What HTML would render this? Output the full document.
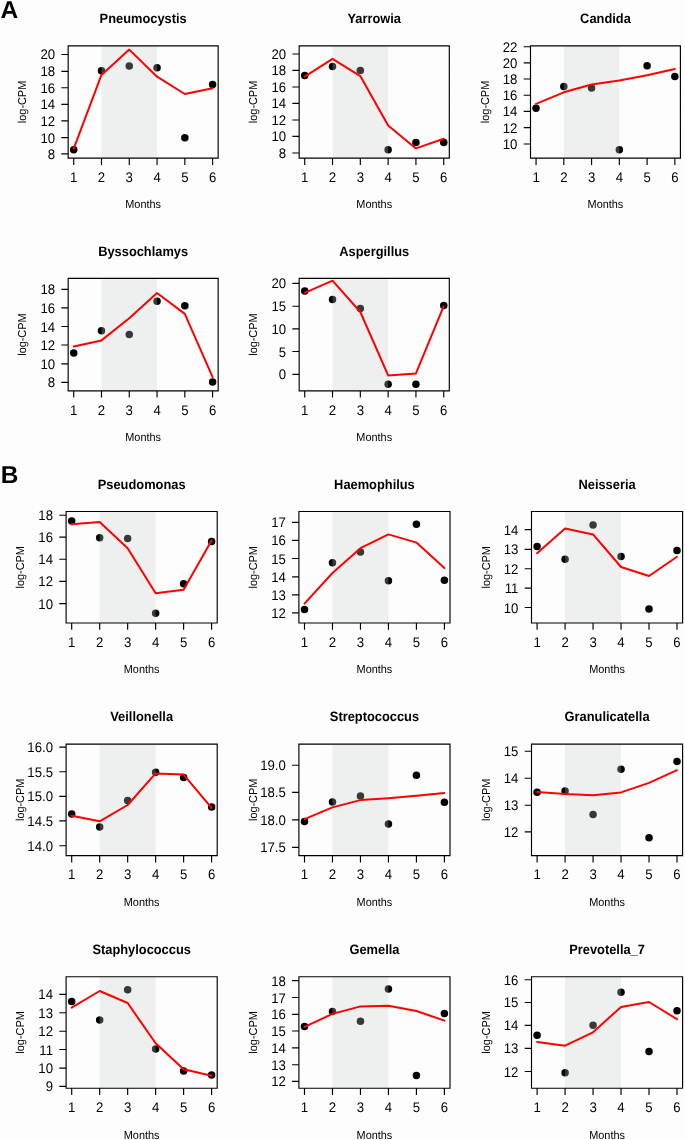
<!DOCTYPE html>
<html><head><meta charset="utf-8"><style>
html,body{margin:0;padding:0;background:#fdfdfd;}
svg{display:block;will-change:transform;}
text{font-family:"Liberation Sans",sans-serif;fill:#000;text-rendering:geometricPrecision;}
.t{font-weight:bold;font-size:12.85px;text-anchor:middle;}
.k{font-size:13.2px;text-anchor:middle;}
.r{text-anchor:end;}
.l{font-size:10.9px;text-anchor:middle;}
.L{font-weight:bold;font-size:24.5px;}
</style></head><body>
<svg width="685" height="1140" viewBox="0 0 685 1140">
<rect width="685" height="1140" fill="#fdfdfd"/>
<text x="0.6" y="18.2" class="L">A</text>
<text x="0.7" y="483.1" class="L">B</text>
<g fill="#000"><circle cx="73.72" cy="149.8" r="3.75"/><circle cx="101.49" cy="70.8" r="3.75"/><circle cx="129.27" cy="66" r="3.75"/><circle cx="157.05" cy="67.7" r="3.75"/><circle cx="184.83" cy="137.8" r="3.75"/><circle cx="212.6" cy="84.6" r="3.75"/></g>
<rect x="101.49" y="45.8" width="55.56" height="112.35" fill="rgba(202,206,206,0.277)"/>
<polyline fill="none" stroke="#f00" stroke-width="2" stroke-linejoin="round" stroke-linecap="round" points="73.72,148.6 101.49,74.9 129.27,49.6 157.05,76.7 184.83,94 212.6,88.2"/>
<path d="M68.16 45.8H218.16V158.15H68.16ZM73.72 158.15v6.8M101.49 158.15v6.8M129.27 158.15v6.8M157.05 158.15v6.8M184.83 158.15v6.8M212.6 158.15v6.8M68.16 54.45h-6.8M68.16 71.3h-6.8M68.16 87.7h-6.8M68.16 104.3h-6.8M68.16 120.9h-6.8M68.16 137.6h-6.8M68.16 153.9h-6.8" fill="none" stroke="#000" stroke-width="1.15"/>
<text class="t" transform="translate(143.16 23.1) scale(1 1.06)">Pneumocystis</text>
<text class="k" transform="translate(73.72 181.95) scale(1 1.06)">1</text>
<text class="k" transform="translate(101.49 181.95) scale(1 1.06)">2</text>
<text class="k" transform="translate(129.27 181.95) scale(1 1.06)">3</text>
<text class="k" transform="translate(157.05 181.95) scale(1 1.06)">4</text>
<text class="k" transform="translate(184.83 181.95) scale(1 1.06)">5</text>
<text class="k" transform="translate(212.6 181.95) scale(1 1.06)">6</text>
<text class="k r" transform="translate(55.06 59.49) scale(1 1.06)">20</text>
<text class="k r" transform="translate(55.06 76.34) scale(1 1.06)">18</text>
<text class="k r" transform="translate(55.06 92.74) scale(1 1.06)">16</text>
<text class="k r" transform="translate(55.06 109.34) scale(1 1.06)">14</text>
<text class="k r" transform="translate(55.06 125.94) scale(1 1.06)">12</text>
<text class="k r" transform="translate(55.06 142.64) scale(1 1.06)">10</text>
<text class="k r" transform="translate(55.06 158.94) scale(1 1.06)">8</text>
<text class="l" transform="translate(143.16 208.45) scale(1 1.06)">Months</text>
<text class="l" transform="translate(26.36 101.97) rotate(-90) scale(1 1.06)">log-CPM</text>
<g fill="#000"><circle cx="304.72" cy="75.4" r="3.75"/><circle cx="332.52" cy="66.5" r="3.75"/><circle cx="360.33" cy="70.4" r="3.75"/><circle cx="388.13" cy="149.8" r="3.75"/><circle cx="415.94" cy="142.4" r="3.75"/><circle cx="443.74" cy="142.6" r="3.75"/></g>
<rect x="332.52" y="45.8" width="55.61" height="112.35" fill="rgba(202,206,206,0.277)"/>
<polyline fill="none" stroke="#f00" stroke-width="2" stroke-linejoin="round" stroke-linecap="round" points="304.72,76.6 332.52,58.8 360.33,76.1 388.13,125.5 415.94,148.4 443.74,138.8"/>
<path d="M299.16 45.8H449.3V158.15H299.16ZM304.72 158.15v6.8M332.52 158.15v6.8M360.33 158.15v6.8M388.13 158.15v6.8M415.94 158.15v6.8M443.74 158.15v6.8M299.16 54h-6.8M299.16 70.4h-6.8M299.16 87h-6.8M299.16 103.4h-6.8M299.16 120h-6.8M299.16 136.4h-6.8M299.16 153h-6.8" fill="none" stroke="#000" stroke-width="1.15"/>
<text class="t" transform="translate(374.23 23.1) scale(1 1.06)">Yarrowia</text>
<text class="k" transform="translate(304.72 181.95) scale(1 1.06)">1</text>
<text class="k" transform="translate(332.52 181.95) scale(1 1.06)">2</text>
<text class="k" transform="translate(360.33 181.95) scale(1 1.06)">3</text>
<text class="k" transform="translate(388.13 181.95) scale(1 1.06)">4</text>
<text class="k" transform="translate(415.94 181.95) scale(1 1.06)">5</text>
<text class="k" transform="translate(443.74 181.95) scale(1 1.06)">6</text>
<text class="k r" transform="translate(286.06 59.04) scale(1 1.06)">20</text>
<text class="k r" transform="translate(286.06 75.44) scale(1 1.06)">18</text>
<text class="k r" transform="translate(286.06 92.04) scale(1 1.06)">16</text>
<text class="k r" transform="translate(286.06 108.44) scale(1 1.06)">14</text>
<text class="k r" transform="translate(286.06 125.04) scale(1 1.06)">12</text>
<text class="k r" transform="translate(286.06 141.44) scale(1 1.06)">10</text>
<text class="k r" transform="translate(286.06 158.04) scale(1 1.06)">8</text>
<text class="l" transform="translate(374.23 208.45) scale(1 1.06)">Months</text>
<text class="l" transform="translate(257.36 101.97) rotate(-90) scale(1 1.06)">log-CPM</text>
<g fill="#000"><circle cx="536.05" cy="108.3" r="3.75"/><circle cx="563.81" cy="86.4" r="3.75"/><circle cx="591.57" cy="88.1" r="3.75"/><circle cx="619.33" cy="149.7" r="3.75"/><circle cx="647.09" cy="65.7" r="3.75"/><circle cx="674.85" cy="76.6" r="3.75"/></g>
<rect x="563.81" y="45.8" width="55.52" height="112.35" fill="rgba(202,206,206,0.277)"/>
<polyline fill="none" stroke="#f00" stroke-width="2" stroke-linejoin="round" stroke-linecap="round" points="536.05,103.8 563.81,92.3 591.57,84.5 619.33,80.5 647.09,75.2 674.85,69"/>
<path d="M530.5 45.8H680.4V158.15H530.5ZM536.05 158.15v6.8M563.81 158.15v6.8M591.57 158.15v6.8M619.33 158.15v6.8M647.09 158.15v6.8M674.85 158.15v6.8M530.5 46.7h-6.8M530.5 62.8h-6.8M530.5 79h-6.8M530.5 95.2h-6.8M530.5 111.4h-6.8M530.5 127.6h-6.8M530.5 144h-6.8" fill="none" stroke="#000" stroke-width="1.15"/>
<text class="t" transform="translate(605.45 23.1) scale(1 1.06)">Candida</text>
<text class="k" transform="translate(536.05 181.95) scale(1 1.06)">1</text>
<text class="k" transform="translate(563.81 181.95) scale(1 1.06)">2</text>
<text class="k" transform="translate(591.57 181.95) scale(1 1.06)">3</text>
<text class="k" transform="translate(619.33 181.95) scale(1 1.06)">4</text>
<text class="k" transform="translate(647.09 181.95) scale(1 1.06)">5</text>
<text class="k" transform="translate(674.85 181.95) scale(1 1.06)">6</text>
<text class="k r" transform="translate(517.4 51.74) scale(1 1.06)">22</text>
<text class="k r" transform="translate(517.4 67.84) scale(1 1.06)">20</text>
<text class="k r" transform="translate(517.4 84.04) scale(1 1.06)">18</text>
<text class="k r" transform="translate(517.4 100.24) scale(1 1.06)">16</text>
<text class="k r" transform="translate(517.4 116.44) scale(1 1.06)">14</text>
<text class="k r" transform="translate(517.4 132.64) scale(1 1.06)">12</text>
<text class="k r" transform="translate(517.4 149.04) scale(1 1.06)">10</text>
<text class="l" transform="translate(605.45 208.45) scale(1 1.06)">Months</text>
<text class="l" transform="translate(488.7 101.97) rotate(-90) scale(1 1.06)">log-CPM</text>
<g fill="#000"><circle cx="73.72" cy="353" r="3.75"/><circle cx="101.49" cy="330.8" r="3.75"/><circle cx="129.27" cy="334.4" r="3.75"/><circle cx="157.05" cy="301.2" r="3.75"/><circle cx="184.83" cy="305.8" r="3.75"/><circle cx="212.6" cy="381.9" r="3.75"/></g>
<rect x="101.49" y="278.4" width="55.56" height="112.4" fill="rgba(202,206,206,0.277)"/>
<polyline fill="none" stroke="#f00" stroke-width="2" stroke-linejoin="round" stroke-linecap="round" points="73.72,346.5 101.49,340.4 129.27,318.3 157.05,293 184.83,313.9 212.6,377.1"/>
<path d="M68.16 278.4H218.16V390.8H68.16ZM73.72 390.8v6.8M101.49 390.8v6.8M129.27 390.8v6.8M157.05 390.8v6.8M184.83 390.8v6.8M212.6 390.8v6.8M68.16 289.4h-6.8M68.16 307.9h-6.8M68.16 326.5h-6.8M68.16 345h-6.8M68.16 363.8h-6.8M68.16 382.4h-6.8" fill="none" stroke="#000" stroke-width="1.15"/>
<text class="t" transform="translate(143.16 255.7) scale(1 1.06)">Byssochlamys</text>
<text class="k" transform="translate(73.72 414.6) scale(1 1.06)">1</text>
<text class="k" transform="translate(101.49 414.6) scale(1 1.06)">2</text>
<text class="k" transform="translate(129.27 414.6) scale(1 1.06)">3</text>
<text class="k" transform="translate(157.05 414.6) scale(1 1.06)">4</text>
<text class="k" transform="translate(184.83 414.6) scale(1 1.06)">5</text>
<text class="k" transform="translate(212.6 414.6) scale(1 1.06)">6</text>
<text class="k r" transform="translate(55.06 294.44) scale(1 1.06)">18</text>
<text class="k r" transform="translate(55.06 312.94) scale(1 1.06)">16</text>
<text class="k r" transform="translate(55.06 331.54) scale(1 1.06)">14</text>
<text class="k r" transform="translate(55.06 350.04) scale(1 1.06)">12</text>
<text class="k r" transform="translate(55.06 368.84) scale(1 1.06)">10</text>
<text class="k r" transform="translate(55.06 387.44) scale(1 1.06)">8</text>
<text class="l" transform="translate(143.16 441.1) scale(1 1.06)">Months</text>
<text class="l" transform="translate(26.36 334.6) rotate(-90) scale(1 1.06)">log-CPM</text>
<g fill="#000"><circle cx="304.72" cy="291.1" r="3.75"/><circle cx="332.52" cy="299.5" r="3.75"/><circle cx="360.33" cy="308.6" r="3.75"/><circle cx="388.13" cy="384.3" r="3.75"/><circle cx="415.94" cy="384.3" r="3.75"/><circle cx="443.74" cy="305.5" r="3.75"/></g>
<rect x="332.52" y="278.4" width="55.61" height="112.4" fill="rgba(202,206,206,0.277)"/>
<polyline fill="none" stroke="#f00" stroke-width="2" stroke-linejoin="round" stroke-linecap="round" points="304.72,292.8 332.52,280.7 360.33,312 388.13,375.4 415.94,373.4 443.74,306.2"/>
<path d="M299.16 278.4H449.3V390.8H299.16ZM304.72 390.8v6.8M332.52 390.8v6.8M360.33 390.8v6.8M388.13 390.8v6.8M415.94 390.8v6.8M443.74 390.8v6.8M299.16 283.4h-6.8M299.16 306.2h-6.8M299.16 328.9h-6.8M299.16 351.5h-6.8M299.16 374.4h-6.8" fill="none" stroke="#000" stroke-width="1.15"/>
<text class="t" transform="translate(374.23 255.7) scale(1 1.06)">Aspergillus</text>
<text class="k" transform="translate(304.72 414.6) scale(1 1.06)">1</text>
<text class="k" transform="translate(332.52 414.6) scale(1 1.06)">2</text>
<text class="k" transform="translate(360.33 414.6) scale(1 1.06)">3</text>
<text class="k" transform="translate(388.13 414.6) scale(1 1.06)">4</text>
<text class="k" transform="translate(415.94 414.6) scale(1 1.06)">5</text>
<text class="k" transform="translate(443.74 414.6) scale(1 1.06)">6</text>
<text class="k r" transform="translate(286.06 288.44) scale(1 1.06)">20</text>
<text class="k r" transform="translate(286.06 311.24) scale(1 1.06)">15</text>
<text class="k r" transform="translate(286.06 333.94) scale(1 1.06)">10</text>
<text class="k r" transform="translate(286.06 356.54) scale(1 1.06)">5</text>
<text class="k r" transform="translate(286.06 379.44) scale(1 1.06)">0</text>
<text class="l" transform="translate(374.23 441.1) scale(1 1.06)">Months</text>
<text class="l" transform="translate(257.36 334.6) rotate(-90) scale(1 1.06)">log-CPM</text>
<g fill="#000"><circle cx="71.7" cy="520.9" r="3.75"/><circle cx="99.68" cy="537.8" r="3.75"/><circle cx="127.66" cy="538.5" r="3.75"/><circle cx="155.64" cy="613.2" r="3.75"/><circle cx="183.62" cy="583.8" r="3.75"/><circle cx="211.6" cy="541.6" r="3.75"/></g>
<rect x="99.68" y="511.5" width="55.96" height="111.5" fill="rgba(202,206,206,0.277)"/>
<polyline fill="none" stroke="#f00" stroke-width="2" stroke-linejoin="round" stroke-linecap="round" points="71.7,524.3 99.68,522 127.66,548.2 155.64,593.2 183.62,589.8 211.6,540.4"/>
<path d="M66.1 511.5H217.2V623H66.1ZM71.7 623v6.8M99.68 623v6.8M127.66 623v6.8M155.64 623v6.8M183.62 623v6.8M211.6 623v6.8M66.1 515.2h-6.8M66.1 537.1h-6.8M66.1 559.2h-6.8M66.1 581.4h-6.8M66.1 603.6h-6.8" fill="none" stroke="#000" stroke-width="1.15"/>
<text class="t" transform="translate(141.65 488.8) scale(1 1.06)">Pseudomonas</text>
<text class="k" transform="translate(71.7 646.8) scale(1 1.06)">1</text>
<text class="k" transform="translate(99.68 646.8) scale(1 1.06)">2</text>
<text class="k" transform="translate(127.66 646.8) scale(1 1.06)">3</text>
<text class="k" transform="translate(155.64 646.8) scale(1 1.06)">4</text>
<text class="k" transform="translate(183.62 646.8) scale(1 1.06)">5</text>
<text class="k" transform="translate(211.6 646.8) scale(1 1.06)">6</text>
<text class="k r" transform="translate(53 520.24) scale(1 1.06)">18</text>
<text class="k r" transform="translate(53 542.14) scale(1 1.06)">16</text>
<text class="k r" transform="translate(53 564.24) scale(1 1.06)">14</text>
<text class="k r" transform="translate(53 586.44) scale(1 1.06)">12</text>
<text class="k r" transform="translate(53 608.64) scale(1 1.06)">10</text>
<text class="l" transform="translate(141.65 673.3) scale(1 1.06)">Months</text>
<text class="l" transform="translate(24.3 567.25) rotate(-90) scale(1 1.06)">log-CPM</text>
<g fill="#000"><circle cx="304.5" cy="609.6" r="3.75"/><circle cx="332.48" cy="562.8" r="3.75"/><circle cx="360.46" cy="552" r="3.75"/><circle cx="388.44" cy="580.7" r="3.75"/><circle cx="416.42" cy="524.3" r="3.75"/><circle cx="444.4" cy="580.2" r="3.75"/></g>
<rect x="332.48" y="511.5" width="55.96" height="111.5" fill="rgba(202,206,206,0.277)"/>
<polyline fill="none" stroke="#f00" stroke-width="2" stroke-linejoin="round" stroke-linecap="round" points="304.5,603.6 332.48,573 360.46,548.2 388.44,534.4 416.42,542.6 444.4,568.1"/>
<path d="M298.9 511.5H450V623H298.9ZM304.5 623v6.8M332.48 623v6.8M360.46 623v6.8M388.44 623v6.8M416.42 623v6.8M444.4 623v6.8M298.9 522.4h-6.8M298.9 540.4h-6.8M298.9 558.5h-6.8M298.9 576.8h-6.8M298.9 594.9h-6.8M298.9 612.9h-6.8" fill="none" stroke="#000" stroke-width="1.15"/>
<text class="t" transform="translate(374.45 488.8) scale(1 1.06)">Haemophilus</text>
<text class="k" transform="translate(304.5 646.8) scale(1 1.06)">1</text>
<text class="k" transform="translate(332.48 646.8) scale(1 1.06)">2</text>
<text class="k" transform="translate(360.46 646.8) scale(1 1.06)">3</text>
<text class="k" transform="translate(388.44 646.8) scale(1 1.06)">4</text>
<text class="k" transform="translate(416.42 646.8) scale(1 1.06)">5</text>
<text class="k" transform="translate(444.4 646.8) scale(1 1.06)">6</text>
<text class="k r" transform="translate(285.8 527.44) scale(1 1.06)">17</text>
<text class="k r" transform="translate(285.8 545.44) scale(1 1.06)">16</text>
<text class="k r" transform="translate(285.8 563.54) scale(1 1.06)">15</text>
<text class="k r" transform="translate(285.8 581.84) scale(1 1.06)">14</text>
<text class="k r" transform="translate(285.8 599.94) scale(1 1.06)">13</text>
<text class="k r" transform="translate(285.8 617.94) scale(1 1.06)">12</text>
<text class="l" transform="translate(374.45 673.3) scale(1 1.06)">Months</text>
<text class="l" transform="translate(257.1 567.25) rotate(-90) scale(1 1.06)">log-CPM</text>
<g fill="#000"><circle cx="537.1" cy="546.4" r="3.75"/><circle cx="565.08" cy="559.2" r="3.75"/><circle cx="593.06" cy="524.9" r="3.75"/><circle cx="621.04" cy="556.6" r="3.75"/><circle cx="649.02" cy="609.1" r="3.75"/><circle cx="677" cy="550.5" r="3.75"/></g>
<rect x="565.08" y="511.5" width="55.96" height="111.5" fill="rgba(202,206,206,0.277)"/>
<polyline fill="none" stroke="#f00" stroke-width="2" stroke-linejoin="round" stroke-linecap="round" points="537.1,553.3 565.08,528.5 593.06,534.4 621.04,567 649.02,576 677,556.8"/>
<path d="M531.5 511.5H682.6V623H531.5ZM537.1 623v6.8M565.08 623v6.8M593.06 623v6.8M621.04 623v6.8M649.02 623v6.8M677 623v6.8M531.5 529.65h-6.8M531.5 549.3h-6.8M531.5 568.7h-6.8M531.5 588.1h-6.8M531.5 607.5h-6.8" fill="none" stroke="#000" stroke-width="1.15"/>
<text class="t" transform="translate(607.05 488.8) scale(1 1.06)">Neisseria</text>
<text class="k" transform="translate(537.1 646.8) scale(1 1.06)">1</text>
<text class="k" transform="translate(565.08 646.8) scale(1 1.06)">2</text>
<text class="k" transform="translate(593.06 646.8) scale(1 1.06)">3</text>
<text class="k" transform="translate(621.04 646.8) scale(1 1.06)">4</text>
<text class="k" transform="translate(649.02 646.8) scale(1 1.06)">5</text>
<text class="k" transform="translate(677 646.8) scale(1 1.06)">6</text>
<text class="k r" transform="translate(518.4 534.69) scale(1 1.06)">14</text>
<text class="k r" transform="translate(518.4 554.34) scale(1 1.06)">13</text>
<text class="k r" transform="translate(518.4 573.74) scale(1 1.06)">12</text>
<text class="k r" transform="translate(518.4 593.14) scale(1 1.06)">11</text>
<text class="k r" transform="translate(518.4 612.54) scale(1 1.06)">10</text>
<text class="l" transform="translate(607.05 673.3) scale(1 1.06)">Months</text>
<text class="l" transform="translate(489.7 567.25) rotate(-90) scale(1 1.06)">log-CPM</text>
<g fill="#000"><circle cx="71.7" cy="814.1" r="3.75"/><circle cx="99.68" cy="826.9" r="3.75"/><circle cx="127.66" cy="800.6" r="3.75"/><circle cx="155.64" cy="772.2" r="3.75"/><circle cx="183.62" cy="777.5" r="3.75"/><circle cx="211.6" cy="807.1" r="3.75"/></g>
<rect x="99.68" y="744.1" width="55.96" height="111.5" fill="rgba(202,206,206,0.277)"/>
<polyline fill="none" stroke="#f00" stroke-width="2" stroke-linejoin="round" stroke-linecap="round" points="71.7,815.8 99.68,821.3 127.66,805 155.64,773.4 183.62,774.6 211.6,807.9"/>
<path d="M66.1 744.1H217.2V855.6H66.1ZM71.7 855.6v6.8M99.68 855.6v6.8M127.66 855.6v6.8M155.64 855.6v6.8M183.62 855.6v6.8M211.6 855.6v6.8M66.1 747.15h-6.8M66.1 771.7h-6.8M66.1 796.3h-6.8M66.1 820.9h-6.8M66.1 845.7h-6.8" fill="none" stroke="#000" stroke-width="1.15"/>
<text class="t" transform="translate(141.65 721.4) scale(1 1.06)">Veillonella</text>
<text class="k" transform="translate(71.7 879.4) scale(1 1.06)">1</text>
<text class="k" transform="translate(99.68 879.4) scale(1 1.06)">2</text>
<text class="k" transform="translate(127.66 879.4) scale(1 1.06)">3</text>
<text class="k" transform="translate(155.64 879.4) scale(1 1.06)">4</text>
<text class="k" transform="translate(183.62 879.4) scale(1 1.06)">5</text>
<text class="k" transform="translate(211.6 879.4) scale(1 1.06)">6</text>
<text class="k r" transform="translate(53 752.19) scale(1 1.06)">16.0</text>
<text class="k r" transform="translate(53 776.74) scale(1 1.06)">15.5</text>
<text class="k r" transform="translate(53 801.34) scale(1 1.06)">15.0</text>
<text class="k r" transform="translate(53 825.94) scale(1 1.06)">14.5</text>
<text class="k r" transform="translate(53 850.74) scale(1 1.06)">14.0</text>
<text class="l" transform="translate(141.65 905.9) scale(1 1.06)">Months</text>
<text class="l" transform="translate(24.3 799.85) rotate(-90) scale(1 1.06)">log-CPM</text>
<g fill="#000"><circle cx="304.5" cy="821.6" r="3.75"/><circle cx="332.48" cy="802.1" r="3.75"/><circle cx="360.46" cy="796.1" r="3.75"/><circle cx="388.44" cy="824" r="3.75"/><circle cx="416.42" cy="775.3" r="3.75"/><circle cx="444.4" cy="802.3" r="3.75"/></g>
<rect x="332.48" y="744.1" width="55.96" height="111.5" fill="rgba(202,206,206,0.277)"/>
<polyline fill="none" stroke="#f00" stroke-width="2" stroke-linejoin="round" stroke-linecap="round" points="304.5,819.2 332.48,807.4 360.46,800.1 388.44,798.2 416.42,795.8 444.4,792.9"/>
<path d="M298.9 744.1H450V855.6H298.9ZM304.5 855.6v6.8M332.48 855.6v6.8M360.46 855.6v6.8M388.44 855.6v6.8M416.42 855.6v6.8M444.4 855.6v6.8M298.9 765.2h-6.8M298.9 792.4h-6.8M298.9 819.9h-6.8M298.9 847.4h-6.8" fill="none" stroke="#000" stroke-width="1.15"/>
<text class="t" transform="translate(374.45 721.4) scale(1 1.06)">Streptococcus</text>
<text class="k" transform="translate(304.5 879.4) scale(1 1.06)">1</text>
<text class="k" transform="translate(332.48 879.4) scale(1 1.06)">2</text>
<text class="k" transform="translate(360.46 879.4) scale(1 1.06)">3</text>
<text class="k" transform="translate(388.44 879.4) scale(1 1.06)">4</text>
<text class="k" transform="translate(416.42 879.4) scale(1 1.06)">5</text>
<text class="k" transform="translate(444.4 879.4) scale(1 1.06)">6</text>
<text class="k r" transform="translate(285.8 770.24) scale(1 1.06)">19.0</text>
<text class="k r" transform="translate(285.8 797.44) scale(1 1.06)">18.5</text>
<text class="k r" transform="translate(285.8 824.94) scale(1 1.06)">18.0</text>
<text class="k r" transform="translate(285.8 852.44) scale(1 1.06)">17.5</text>
<text class="l" transform="translate(374.45 905.9) scale(1 1.06)">Months</text>
<text class="l" transform="translate(257.1 799.85) rotate(-90) scale(1 1.06)">log-CPM</text>
<g fill="#000"><circle cx="537.1" cy="792.2" r="3.75"/><circle cx="565.08" cy="791" r="3.75"/><circle cx="593.06" cy="814.4" r="3.75"/><circle cx="621.04" cy="769.2" r="3.75"/><circle cx="649.02" cy="837.8" r="3.75"/><circle cx="677" cy="761.4" r="3.75"/></g>
<rect x="565.08" y="744.1" width="55.96" height="111.5" fill="rgba(202,206,206,0.277)"/>
<polyline fill="none" stroke="#f00" stroke-width="2" stroke-linejoin="round" stroke-linecap="round" points="537.1,791.9 565.08,794 593.06,795.2 621.04,792.4 649.02,782.9 677,770.2"/>
<path d="M531.5 744.1H682.6V855.6H531.5ZM537.1 855.6v6.8M565.08 855.6v6.8M593.06 855.6v6.8M621.04 855.6v6.8M649.02 855.6v6.8M677 855.6v6.8M531.5 751.2h-6.8M531.5 778.2h-6.8M531.5 805.2h-6.8M531.5 831.9h-6.8" fill="none" stroke="#000" stroke-width="1.15"/>
<text class="t" transform="translate(607.05 721.4) scale(1 1.06)">Granulicatella</text>
<text class="k" transform="translate(537.1 879.4) scale(1 1.06)">1</text>
<text class="k" transform="translate(565.08 879.4) scale(1 1.06)">2</text>
<text class="k" transform="translate(593.06 879.4) scale(1 1.06)">3</text>
<text class="k" transform="translate(621.04 879.4) scale(1 1.06)">4</text>
<text class="k" transform="translate(649.02 879.4) scale(1 1.06)">5</text>
<text class="k" transform="translate(677 879.4) scale(1 1.06)">6</text>
<text class="k r" transform="translate(518.4 756.24) scale(1 1.06)">15</text>
<text class="k r" transform="translate(518.4 783.24) scale(1 1.06)">14</text>
<text class="k r" transform="translate(518.4 810.24) scale(1 1.06)">13</text>
<text class="k r" transform="translate(518.4 836.94) scale(1 1.06)">12</text>
<text class="l" transform="translate(607.05 905.9) scale(1 1.06)">Months</text>
<text class="l" transform="translate(489.7 799.85) rotate(-90) scale(1 1.06)">log-CPM</text>
<g fill="#000"><circle cx="71.7" cy="1001.6" r="3.75"/><circle cx="99.68" cy="1020.1" r="3.75"/><circle cx="127.66" cy="989.8" r="3.75"/><circle cx="155.64" cy="1049" r="3.75"/><circle cx="183.62" cy="1071" r="3.75"/><circle cx="211.6" cy="1075.1" r="3.75"/></g>
<rect x="99.68" y="976.7" width="55.96" height="111.5" fill="rgba(202,206,206,0.277)"/>
<polyline fill="none" stroke="#f00" stroke-width="2" stroke-linejoin="round" stroke-linecap="round" points="71.7,1007.6 99.68,991 127.66,1003 155.64,1043.3 183.62,1069.3 211.6,1075.8"/>
<path d="M66.1 976.7H217.2V1088.2H66.1ZM71.7 1088.2v6.8M99.68 1088.2v6.8M127.66 1088.2v6.8M155.64 1088.2v6.8M183.62 1088.2v6.8M211.6 1088.2v6.8M66.1 994.4h-6.8M66.1 1012.7h-6.8M66.1 1031.2h-6.8M66.1 1049.5h-6.8M66.1 1068.1h-6.8M66.1 1086.4h-6.8" fill="none" stroke="#000" stroke-width="1.15"/>
<text class="t" transform="translate(141.65 954) scale(1 1.06)">Staphylococcus</text>
<text class="k" transform="translate(71.7 1112) scale(1 1.06)">1</text>
<text class="k" transform="translate(99.68 1112) scale(1 1.06)">2</text>
<text class="k" transform="translate(127.66 1112) scale(1 1.06)">3</text>
<text class="k" transform="translate(155.64 1112) scale(1 1.06)">4</text>
<text class="k" transform="translate(183.62 1112) scale(1 1.06)">5</text>
<text class="k" transform="translate(211.6 1112) scale(1 1.06)">6</text>
<text class="k r" transform="translate(53 999.44) scale(1 1.06)">14</text>
<text class="k r" transform="translate(53 1017.74) scale(1 1.06)">13</text>
<text class="k r" transform="translate(53 1036.24) scale(1 1.06)">12</text>
<text class="k r" transform="translate(53 1054.54) scale(1 1.06)">11</text>
<text class="k r" transform="translate(53 1073.14) scale(1 1.06)">10</text>
<text class="k r" transform="translate(53 1091.44) scale(1 1.06)">9</text>
<text class="l" transform="translate(141.65 1138.5) scale(1 1.06)">Months</text>
<text class="l" transform="translate(24.3 1032.45) rotate(-90) scale(1 1.06)">log-CPM</text>
<g fill="#000"><circle cx="304.5" cy="1026.6" r="3.75"/><circle cx="332.48" cy="1011.5" r="3.75"/><circle cx="360.46" cy="1021.3" r="3.75"/><circle cx="388.44" cy="989.1" r="3.75"/><circle cx="416.42" cy="1075.5" r="3.75"/><circle cx="444.4" cy="1013.6" r="3.75"/></g>
<rect x="332.48" y="976.7" width="55.96" height="111.5" fill="rgba(202,206,206,0.277)"/>
<polyline fill="none" stroke="#f00" stroke-width="2" stroke-linejoin="round" stroke-linecap="round" points="304.5,1026.9 332.48,1013.9 360.46,1006.4 388.44,1005.7 416.42,1011 444.4,1020.6"/>
<path d="M298.9 976.7H450V1088.2H298.9ZM304.5 1088.2v6.8M332.48 1088.2v6.8M360.46 1088.2v6.8M388.44 1088.2v6.8M416.42 1088.2v6.8M444.4 1088.2v6.8M298.9 980.6h-6.8M298.9 997.5h-6.8M298.9 1014.4h-6.8M298.9 1031h-6.8M298.9 1047.8h-6.8M298.9 1064.7h-6.8M298.9 1081.3h-6.8" fill="none" stroke="#000" stroke-width="1.15"/>
<text class="t" transform="translate(374.45 954) scale(1 1.06)">Gemella</text>
<text class="k" transform="translate(304.5 1112) scale(1 1.06)">1</text>
<text class="k" transform="translate(332.48 1112) scale(1 1.06)">2</text>
<text class="k" transform="translate(360.46 1112) scale(1 1.06)">3</text>
<text class="k" transform="translate(388.44 1112) scale(1 1.06)">4</text>
<text class="k" transform="translate(416.42 1112) scale(1 1.06)">5</text>
<text class="k" transform="translate(444.4 1112) scale(1 1.06)">6</text>
<text class="k r" transform="translate(285.8 985.64) scale(1 1.06)">18</text>
<text class="k r" transform="translate(285.8 1002.54) scale(1 1.06)">17</text>
<text class="k r" transform="translate(285.8 1019.44) scale(1 1.06)">16</text>
<text class="k r" transform="translate(285.8 1036.04) scale(1 1.06)">15</text>
<text class="k r" transform="translate(285.8 1052.84) scale(1 1.06)">14</text>
<text class="k r" transform="translate(285.8 1069.74) scale(1 1.06)">13</text>
<text class="k r" transform="translate(285.8 1086.34) scale(1 1.06)">12</text>
<text class="l" transform="translate(374.45 1138.5) scale(1 1.06)">Months</text>
<text class="l" transform="translate(257.1 1032.45) rotate(-90) scale(1 1.06)">log-CPM</text>
<g fill="#000"><circle cx="537.1" cy="1035.3" r="3.75"/><circle cx="565.08" cy="1072.7" r="3.75"/><circle cx="593.06" cy="1025.2" r="3.75"/><circle cx="621.04" cy="992.3" r="3.75"/><circle cx="649.02" cy="1051.4" r="3.75"/><circle cx="677" cy="1010.7" r="3.75"/></g>
<rect x="565.08" y="976.7" width="55.96" height="111.5" fill="rgba(202,206,206,0.277)"/>
<polyline fill="none" stroke="#f00" stroke-width="2" stroke-linejoin="round" stroke-linecap="round" points="537.1,1041.9 565.08,1045.7 593.06,1032.3 621.04,1006.9 649.02,1002 677,1019.2"/>
<path d="M531.5 976.7H682.6V1088.2H531.5ZM537.1 1088.2v6.8M565.08 1088.2v6.8M593.06 1088.2v6.8M621.04 1088.2v6.8M649.02 1088.2v6.8M677 1088.2v6.8M531.5 979.75h-6.8M531.5 1002.45h-6.8M531.5 1025.4h-6.8M531.5 1048.3h-6.8M531.5 1071.5h-6.8" fill="none" stroke="#000" stroke-width="1.15"/>
<text class="t" transform="translate(607.05 954) scale(1 1.06)">Prevotella_7</text>
<text class="k" transform="translate(537.1 1112) scale(1 1.06)">1</text>
<text class="k" transform="translate(565.08 1112) scale(1 1.06)">2</text>
<text class="k" transform="translate(593.06 1112) scale(1 1.06)">3</text>
<text class="k" transform="translate(621.04 1112) scale(1 1.06)">4</text>
<text class="k" transform="translate(649.02 1112) scale(1 1.06)">5</text>
<text class="k" transform="translate(677 1112) scale(1 1.06)">6</text>
<text class="k r" transform="translate(518.4 984.79) scale(1 1.06)">16</text>
<text class="k r" transform="translate(518.4 1007.49) scale(1 1.06)">15</text>
<text class="k r" transform="translate(518.4 1030.44) scale(1 1.06)">14</text>
<text class="k r" transform="translate(518.4 1053.34) scale(1 1.06)">13</text>
<text class="k r" transform="translate(518.4 1076.54) scale(1 1.06)">12</text>
<text class="l" transform="translate(607.05 1138.5) scale(1 1.06)">Months</text>
<text class="l" transform="translate(489.7 1032.45) rotate(-90) scale(1 1.06)">log-CPM</text>
</svg>
</body></html>
